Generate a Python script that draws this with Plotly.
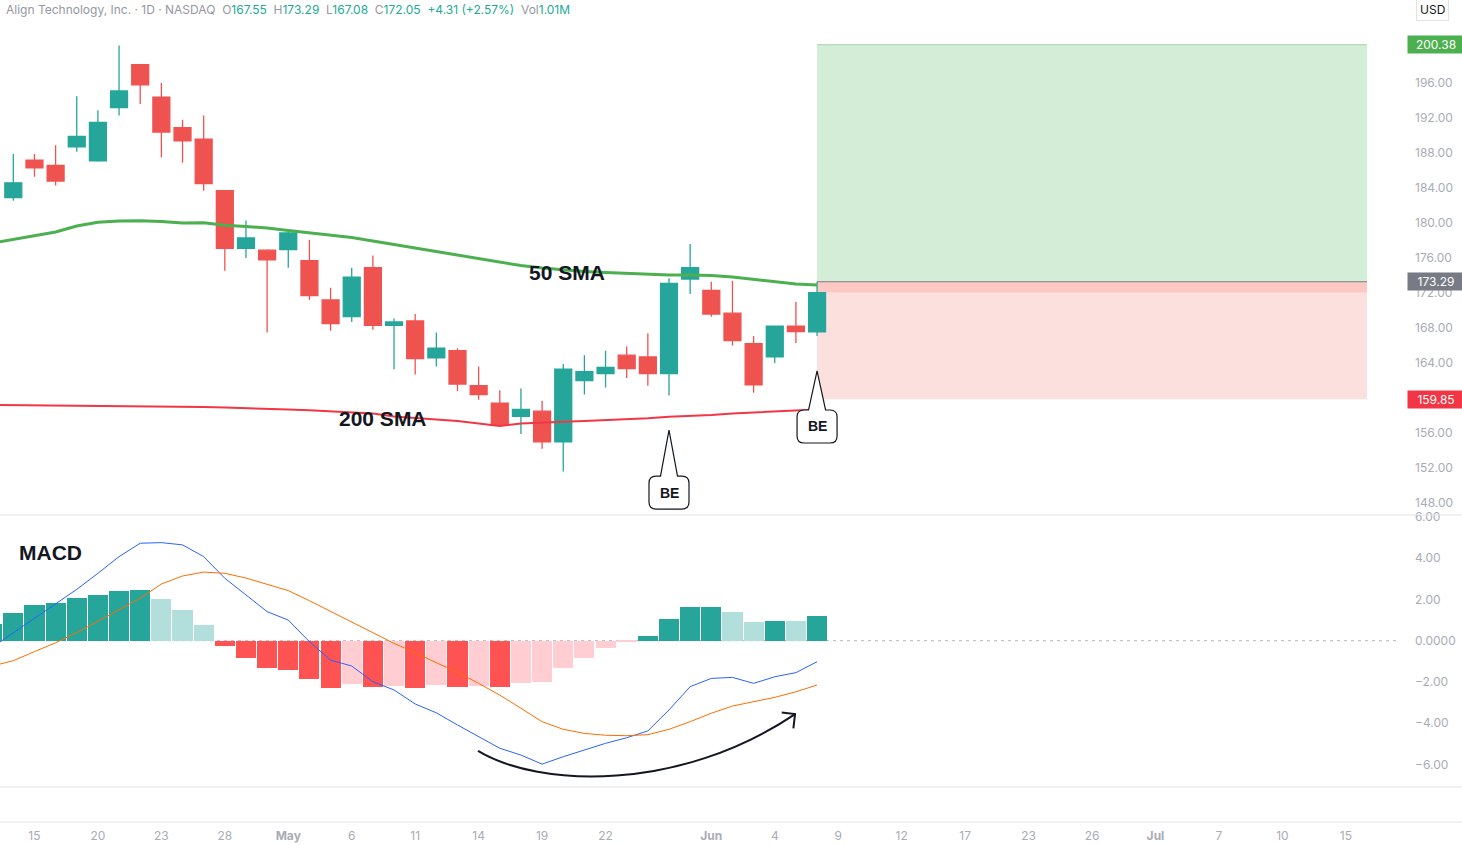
import plotly.graph_objects as go

# ---------------- data ----------------
candle_idx = list(range(39))
open_ = [182.9, 187.2, 186.6, 188.7, 187.1, 193.2, 198.1, 194.4, 190.9, 189.6,
         183.7, 177.1, 176.9, 176.95, 175.7, 171.2, 169.3, 174.9, 168.3, 168.8,
         164.6, 165.4, 161.4, 159.4, 157.9, 158.5, 155.0, 162.0, 162.8, 164.9,
         164.7, 162.8, 173.6, 172.3, 169.7, 166.2, 164.7, 168.2, 167.55]
high = [187.9, 187.9, 188.9, 194.5, 192.9, 200.3, 198.1, 196.0, 191.8, 192.3,
        183.7, 180.3, 177.0, 179.3, 178.1, 172.6, 174.9, 176.3, 169.1, 169.6,
        167.5, 165.7, 163.6, 160.9, 161.1, 159.7, 163.9, 164.9, 165.4, 165.9,
        167.4, 173.7, 177.6, 173.3, 173.4, 167.1, 168.3, 171.0, 173.29]
low = [182.55, 185.3, 184.3, 188.15, 187.0, 192.3, 193.6, 187.5, 186.9, 183.7,
       174.55, 176.0, 167.5, 174.9, 171.2, 167.7, 168.7, 167.8, 163.3, 162.7,
       163.6, 160.8, 159.8, 156.8, 155.9, 154.2, 151.6, 160.4, 161.2, 162.3,
       161.4, 160.3, 171.9, 169.3, 166.0, 160.6, 164.0, 166.3, 167.08]
close = [184.6, 186.3, 184.8, 189.9, 191.5, 195.1, 195.8, 190.4, 189.4, 184.5,
         177.1, 178.3, 175.8, 178.86, 171.7, 168.5, 173.8, 168.3, 168.7, 164.5,
         165.7, 161.6, 160.4, 157.0, 158.7, 155.0, 163.3, 163.0, 163.5, 163.35,
         162.8, 173.1, 174.9, 169.6, 166.55, 161.5, 168.2, 167.6, 172.05]

ind_idx = list(range(-1, 39))
sma50 = [177.71, 178.11, 178.51, 178.97, 179.66, 180.08, 180.23, 180.26, 180.17, 180.0,
         180.03, 179.74, 179.6, 179.43, 179.14, 178.86, 178.57, 178.34, 177.94, 177.54,
         177.09, 176.69, 176.29, 175.89, 175.49, 175.14, 174.86, 174.63, 174.46, 174.34,
         174.25, 174.17, 174.06, 174.06, 174.0, 173.83, 173.54, 173.26, 173.03, 172.91]
sma200 = [159.2, 159.18, 159.15, 159.14, 159.13, 159.12, 159.11, 159.09, 159.05, 159.01,
          158.96, 158.91, 158.86, 158.78, 158.69, 158.59, 158.48, 158.37, 158.23, 157.89,
          157.68, 157.54, 157.37, 157.09, 156.8, 157.09, 157.22, 157.28, 157.37, 157.45,
          157.57, 157.68, 157.86, 157.94, 158.06, 158.23, 158.34, 158.46, 158.59, 158.69]
macd_line = [-0.32, 0.39, 1.09, 1.77, 2.49, 3.27, 4.08, 4.73, 4.76, 4.65,
             4.08, 3.03, 2.22, 1.41, 1.00, -0.05, -0.94, -1.23, -1.99, -2.39,
             -3.07, -3.50, -4.09, -4.66, -5.22, -5.55, -5.99, -5.63, -5.31, -4.98,
             -4.71, -4.38, -3.36, -2.23, -1.83, -1.78, -2.07, -1.75, -1.55, -1.02]
signal_line = [-1.23, -0.97, -0.53, -0.10, 0.39, 0.96, 1.49, 2.06, 2.75, 3.14,
               3.33, 3.27, 3.04, 2.75, 2.43, 1.94, 1.41, 0.89, 0.39, -0.13,
               -0.58, -1.07, -1.53, -2.07, -2.64, -3.28, -3.93, -4.30, -4.50, -4.59,
               -4.61, -4.56, -4.30, -3.93, -3.52, -3.17, -2.96, -2.75, -2.48, -2.15]
macd_hist = [0.81, 1.34, 1.73, 1.83, 2.07, 2.22, 2.43, 2.48, 2.02, 1.49,
             0.76, -0.24, -0.84, -1.33, -1.42, -1.86, -2.30, -2.09, -2.25, -2.20,
             -2.30, -2.15, -2.25, -2.20, -2.25, -2.06, -2.01, -1.33, -0.84, -0.36,
             -0.06, 0.23, 1.05, 1.63, 1.65, 1.39, 0.91, 0.95, 0.94, 1.20]

x_tick_pos = [1, 4, 7, 10, 13, 16, 19, 22, 25, 28, 33, 36, 39, 42, 45, 48, 51, 54, 57, 60, 63]
x_tick_text = ["15", "20", "23", "28", "<b>May</b>", "6", "11", "14", "19", "22", "<b>Jun</b>",
               "4", "9", "12", "17", "23", "26", "<b>Jul</b>", "7", "10", "15"]
price_ticks = [148, 152, 156, 160, 164, 168, 172, 176, 180, 184, 188, 192, 196]
macd_ticks = [6, 4, 2, 0, -2, -4, -6]
macd_tick_text = ["6.00", "4.00", "2.00", "0.0000", "\u22122.00", "\u22124.00", "\u22126.00"]

entry_price = 173.29
target_price = 200.38
stop_price = 159.85
last_close = 172.05
pos_start, pos_end = 38, 64

# ---------------- layout constants ----------------
W, H = 1462, 845
ML, MR, MT, MB = 0, 62, 0, 23
PW, PH = W - ML - MR, H - MT - MB
X_RANGE = [-0.629, 65.56]
P_RANGE = [146.63, 205.49]
M_RANGE = [-7.10, 6.10]
P_PX = (0, 515)
M_PX = (515, 787)
kx = PW / (X_RANGE[1] - X_RANGE[0])
kp = (P_PX[1] - P_PX[0]) / (P_RANGE[1] - P_RANGE[0])
km = (M_PX[1] - M_PX[0]) / (M_RANGE[1] - M_RANGE[0])

TEAL = "#26a69a"
RED = "#ef5350"
AXIS_TXT = "#a9acb5"
SEP = "#e0e3eb"

# histogram colors (TradingView rule)
hist_colors = []
for i, h in enumerate(macd_hist):
    prev = macd_hist[i - 1] if i > 0 else None
    if h >= 0:
        hist_colors.append(TEAL if (prev is None or h > prev) else "#b2dfdb")
    else:
        hist_colors.append("#ff5252" if (prev is None or h < prev) else "#ffcdd2")

fig = go.Figure()

fig.add_trace(go.Candlestick(
    x=candle_idx, open=open_, high=high, low=low, close=close,
    increasing=dict(line=dict(color=TEAL, width=1.3), fillcolor=TEAL),
    decreasing=dict(line=dict(color=RED, width=1.3), fillcolor=RED),
    whiskerwidth=0, xaxis="x", yaxis="y", hoverinfo="skip"))

fig.add_trace(go.Scatter(x=ind_idx, y=sma50, mode="lines",
                         line=dict(color="#4caf50", width=3), xaxis="x", yaxis="y", hoverinfo="skip"))
fig.add_trace(go.Scatter(x=ind_idx, y=sma200, mode="lines",
                         line=dict(color="#f23645", width=2), xaxis="x", yaxis="y", hoverinfo="skip"))

fig.add_trace(go.Bar(x=ind_idx, y=macd_hist, marker=dict(color=hist_colors, line=dict(width=0)),
                     width=0.95, xaxis="x2", yaxis="y2", hoverinfo="skip"))
fig.add_trace(go.Scatter(x=ind_idx, y=macd_line, mode="lines",
                         line=dict(color="#2962ff", width=1), xaxis="x2", yaxis="y2", hoverinfo="skip"))
fig.add_trace(go.Scatter(x=ind_idx, y=signal_line, mode="lines",
                         line=dict(color="#ff6d00", width=1), xaxis="x2", yaxis="y2", hoverinfo="skip"))

shapes = []
# long position tool
shapes.append(dict(type="rect", xref="x", yref="y", x0=pos_start, x1=pos_end, y0=entry_price, y1=target_price,
                   fillcolor="#d4edd6", line=dict(width=0), layer="below"))
shapes.append(dict(type="line", xref="x", yref="y", x0=pos_start, x1=pos_end, y0=target_price, y1=target_price,
                   line=dict(color="#a5d6a7", width=1), layer="below"))
shapes.append(dict(type="rect", xref="x", yref="y", x0=pos_start, x1=pos_end, y0=stop_price, y1=entry_price,
                   fillcolor="#fce0de", line=dict(width=0), layer="below"))
shapes.append(dict(type="rect", xref="x", yref="y", x0=pos_start, x1=pos_end, y0=last_close, y1=entry_price,
                   fillcolor="#fcc8c3", line=dict(width=0), layer="below"))
shapes.append(dict(type="line", xref="x", yref="y", x0=pos_start, x1=pos_end, y0=entry_price, y1=entry_price,
                   line=dict(color="#787b86", width=1.2), layer="below"))

# zero line of MACD
shapes.append(dict(type="line", xref="x2 domain", yref="y2", x0=0, x1=1, y0=0, y1=0,
                   line=dict(color="#b2b5be", width=1, dash="3px,4px"), layer="below"))

# pane separators
for px in (515, 787, 822):
    yp = 1 - px / PH
    shapes.append(dict(type="line", xref="paper", yref="paper", x0=0, x1=W / PW, y0=yp, y1=yp,
                       line=dict(color=SEP, width=1)))


def callout(xi, tip_price, gap_px, label):
    bw, bh, r, hw = 40, 33, 7, 8.5
    dx = lambda p: p / kx
    dy = lambda p: p / kp
    tx, ty = xi, tip_price
    top = ty - dy(gap_px)
    bot = top - dy(bh)
    left, right = tx - dx(bw / 2), tx + dx(bw / 2)
    rx, ry = dx(r), dy(r)
    path = (f"M {tx} {ty} L {tx + dx(hw)} {top} L {right - rx} {top} Q {right} {top} {right} {top - ry} "
            f"L {right} {bot + ry} Q {right} {bot} {right - rx} {bot} L {left + rx} {bot} "
            f"Q {left} {bot} {left} {bot + ry} L {left} {top - ry} Q {left} {top} {left + rx} {top} "
            f"L {tx - dx(hw)} {top} Z")
    shapes.append(dict(type="path", xref="x", yref="y", path=path, fillcolor="white",
                       line=dict(color="#131722", width=1.2), layer="above"))
    return dict(x=tx, y=(top + bot) / 2, xref="x", yref="y", text=f"<b>{label}</b>", showarrow=False,
                yanchor="middle", font=dict(family="Liberation Sans, Arial", size=14, color="#131722"))


annotations = []
annotations.append(callout(31, 156.34, 46, "BE"))
annotations.append(callout(38, 163.09, 39, "BE"))

# curved arrow in MACD pane
a_start, a_c1, a_c2, a_end = (21.97, -5.35), (24.9, -7.15), (31.5, -7.34), (36.96, -3.56)
shapes.append(dict(type="path", xref="x2", yref="y2",
                   path=f"M {a_start[0]} {a_start[1]} C {a_c1[0]} {a_c1[1]} {a_c2[0]} {a_c2[1]} {a_end[0]} {a_end[1]}",
                   line=dict(color="#131722", width=2)))
shapes.append(dict(type="path", xref="x2", yref="y2",
                   path=f"M 36.33 -3.48 L {a_end[0]} {a_end[1]} L 36.88 -4.25",
                   line=dict(color="#131722", width=2)))

bold_font = dict(family="Liberation Sans, Arial", size=21, color="#131722")
annotations.append(dict(x=26.19, y=174.29, xref="x", yref="y", text="<b>50 SMA</b>", showarrow=False,
                        yanchor="middle", font=bold_font))
annotations.append(dict(x=17.47, y=157.71, xref="x", yref="y", text="<b>200 SMA</b>", showarrow=False,
                        yanchor="middle", font=bold_font))
annotations.append(dict(x=17 / PW, y=1 - 552 / PH, xref="paper", yref="paper", text="<b>MACD</b>",
                        showarrow=False, xanchor="left", yanchor="middle", font=bold_font))

# header
g = "#9598a1"
t = "#22ab94"
sp = "\u00a0\u00a0"
header = (f"<span style='color:{g}'>Align Technology, Inc. · 1D · NASDAQ</span>{sp}"
          f"<span style='color:{g}'>O</span><span style='color:{t}'>167.55</span>{sp}"
          f"<span style='color:{g}'>H</span><span style='color:{t}'>173.29</span>{sp}"
          f"<span style='color:{g}'>L</span><span style='color:{t}'>167.08</span>{sp}"
          f"<span style='color:{g}'>C</span><span style='color:{t}'>172.05</span>{sp}"
          f"<span style='color:{t}'>+4.31 (+2.57%)</span>{sp}"
          f"<span style='color:{g}'>Vol</span><span style='color:{t}'>1.01M</span>")
annotations.append(dict(x=4 / PW, y=1 - 9 / PH, xref="paper", yref="paper", text=header, showarrow=False,
                        xanchor="left", yanchor="middle", font=dict(family="Inter", size=12)))

# USD button
annotations.append(dict(x=1432 / PW, y=1 - 9 / PH, xref="paper", yref="paper", text="USD", showarrow=False,
                        xanchor="center", yanchor="middle", font=dict(family="Inter", size=12, color="#131722"),
                        bgcolor="white", bordercolor=SEP, borderwidth=1, borderpad=3))

# price labels on axis
for price, col in ((target_price, "#4caf50"), (entry_price, "#787b86"), (stop_price, "#f23645")):
    annotations.append(dict(x=1, y=price, xref="paper", yref="y", text=f"{price:.2f}", showarrow=False,
                            xanchor="left", yanchor="middle", xshift=7, width=52, height=13, borderpad=2,
                            bgcolor=col, font=dict(family="Inter", size=12, color="white"), align="center"))

fig.update_layout(
    width=W, height=H, margin=dict(l=ML, r=MR, t=MT, b=MB, autoexpand=False),
    paper_bgcolor="white", plot_bgcolor="white", showlegend=False, hovermode=False,
    boxgap=0.2, boxgroupgap=0, bargap=0,
    shapes=shapes, annotations=annotations,
    xaxis=dict(domain=[0, 1], range=X_RANGE, anchor="y", showticklabels=False, showgrid=False,
               zeroline=False, rangeslider=dict(visible=False), fixedrange=True, automargin=False),
    yaxis=dict(domain=[1 - P_PX[1] / PH, 1], range=P_RANGE, side="right", anchor="x",
               tickvals=price_ticks, ticktext=[f"{v:.2f}" for v in price_ticks],
               showgrid=False, zeroline=False, ticklabelstandoff=14, automargin=False,
               tickfont=dict(family="Inter", size=12, color=AXIS_TXT)),
    xaxis2=dict(domain=[0, 1], range=X_RANGE, anchor="y2", tickvals=x_tick_pos, ticktext=x_tick_text,
                showgrid=False, zeroline=False, ticklabelstandoff=40, automargin=False,
                tickfont=dict(family="Inter", size=12, color=AXIS_TXT)),
    yaxis2=dict(domain=[1 - M_PX[1] / PH, 1 - M_PX[0] / PH], range=M_RANGE, side="right", anchor="x2",
                tickvals=macd_ticks, ticktext=macd_tick_text, showgrid=False, zeroline=False,
                ticklabelstandoff=14, automargin=False,
                tickfont=dict(family="Inter", size=12, color=AXIS_TXT)),
)

fig.write_html("out.html")
